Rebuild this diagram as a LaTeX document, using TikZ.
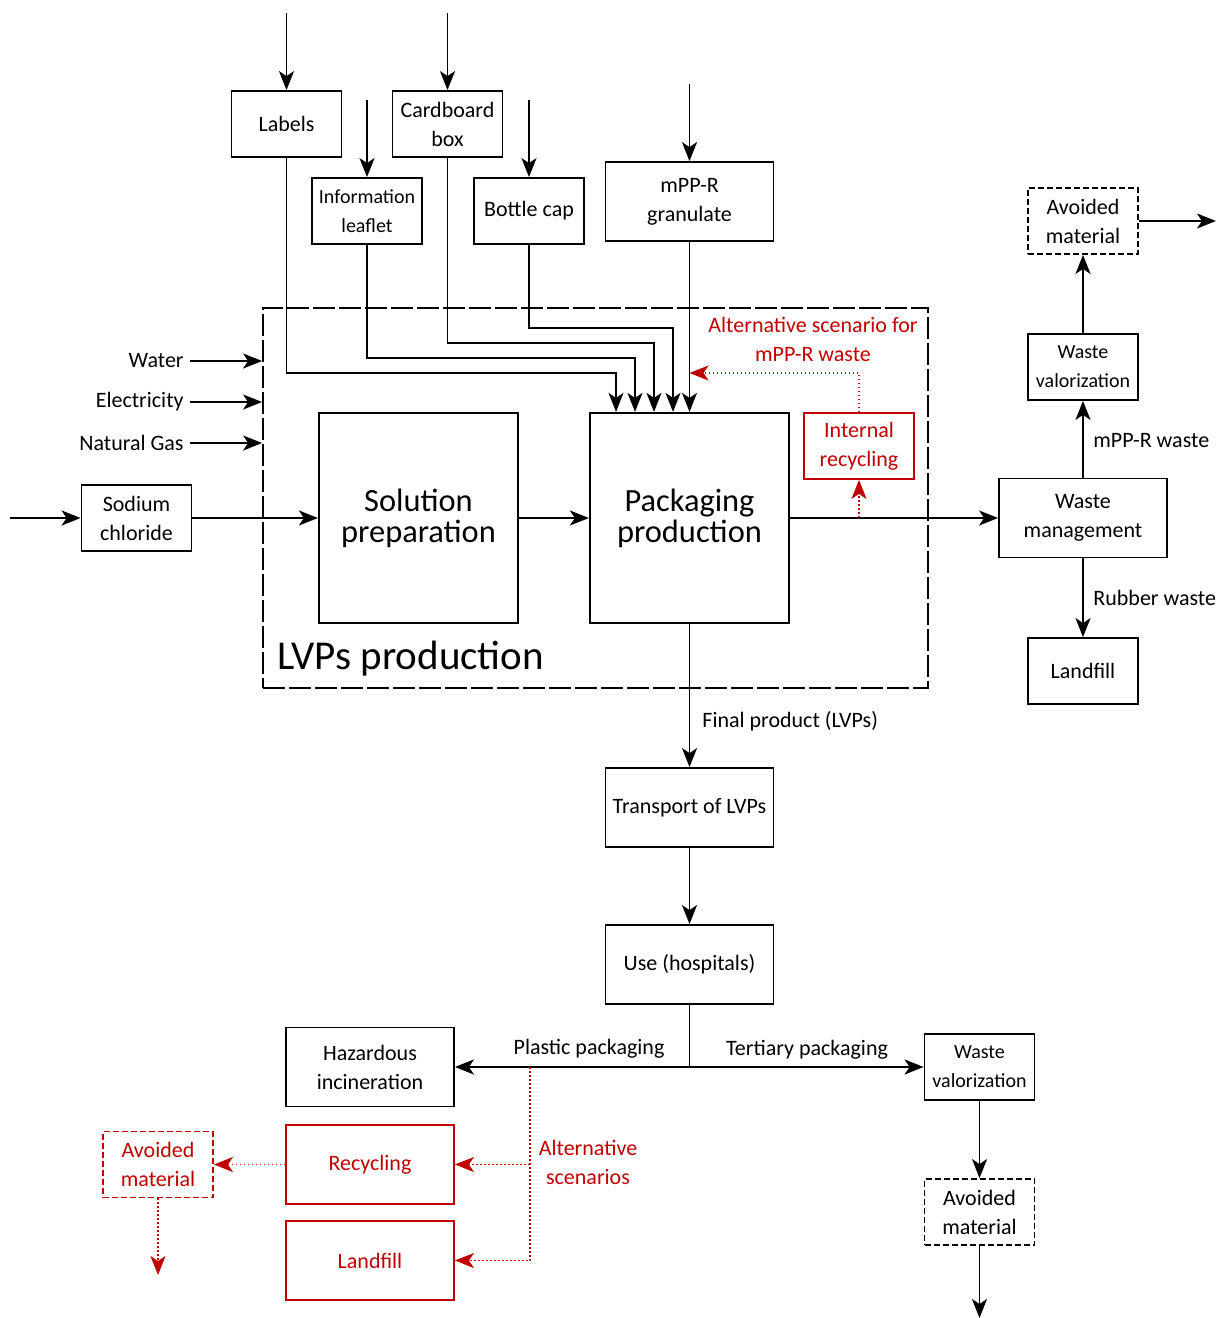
\documentclass[tikz,border=0pt]{standalone}
\usepackage{fontspec}
\setmainfont{Carlito}
\usetikzlibrary{positioning,arrows.meta}
\definecolor{altred}{HTML}{C00000}

\begin{document}
\begin{tikzpicture}[
  x=0.5pt, y=-0.5pt,
  >={Stealth[length=9.5pt,width=7.5pt,inset=2.5pt]},
  box/.style={draw, line width=0.9pt, align=center, inner sep=1pt,
              font=\fontsize{11}{14.5}\selectfont},
  smallbox/.style={box, minimum width=55pt, minimum height=33pt},
  widebox/.style={box, minimum width=84pt, minimum height=39.5pt},
  bigbox/.style={box, line width=1.1pt, minimum width=99.5pt, minimum height=105pt,
                 font=\fontsize{16.2}{15.5}\selectfont},
  avoided/.style={smallbox, dash pattern=on 3pt off 1.5pt},
  alt/.style={draw=altred, text=altred},
  tiny/.style={font=\fontsize{10}{14.5}\selectfont},
  lbl/.style={font=\fontsize{11}{14.5}\selectfont, align=center, inner sep=0pt},
  arr/.style={->, line width=0.9pt},
  redarr/.style={->, altred, line width=0.8pt, dash pattern=on 0.8pt off 1.2pt},
  frame/.style={draw, line width=0.9pt, dash pattern=on 11pt off 2pt},
]
\useasboundingbox (0,0) rectangle (1221,1318);

% packaging inputs
\node[smallbox] (labels) at (286.5,124) {Labels};
\node[smallbox] (cbox) at (447.5,124) {Cardboard\\box};
\node[smallbox, tiny] (leaflet) at (367,211) {Information\\leaflet};
\node[smallbox] (cap) at (529,211) {Bottle cap};
\node[widebox] (mppr) at (689.5,201.5) {mPP-R\\granulate};

\coordinate (inLabels) at (286.5,13);
\coordinate (inCbox) at (447.5,13);
\coordinate (inLeaflet) at (367,100);
\coordinate (inCap) at (529,100);
\coordinate (inMppr) at (689.5,84);
\draw[arr] (inLabels) -- (labels);
\draw[arr] (inCbox) -- (cbox);
\draw[arr] (inLeaflet) -- (leaflet);
\draw[arr] (inCap) -- (cap);
\draw[arr] (inMppr) -- (mppr);

% LVPs production
\node[frame, minimum width=332.5pt, minimum height=190pt] (lvps) at (595.5,498) {};
\node[bigbox] (sol) at (418.5,518) {Solution\\preparation};
\node[bigbox] (pack) at (689.5,518) {Packaging\\production};
\node[lbl, anchor=west, font=\fontsize{20.5}{20}\selectfont] (lvpsname) at (277,659) {LVPs production};

\coordinate (jLabels) at (616,373);
\coordinate (jLeaflet) at (635,358);
\coordinate (jCbox) at (654,343);
\coordinate (jCap) at (673,328);
\draw[arr] (labels.south) |- (jLabels) -- (jLabels |- pack.north);
\draw[arr] (leaflet.south) |- (jLeaflet) -- (jLeaflet |- pack.north);
\draw[arr] (cbox.south) |- (jCbox) -- (jCbox |- pack.north);
\draw[arr] (cap.south) |- (jCap) -- (jCap |- pack.north);
\draw[arr] (mppr) -- (mppr |- pack.north);

% internal recycling scenario
\node[smallbox, alt] (intrec) at (859,446) {Internal\\recycling};
\node[lbl, text=altred] (altmppr) at (813,339) {Alternative scenario for\\mPP-R waste};
\coordinate (jRecyc) at (689.5,373);
\draw[redarr] (intrec |- pack.east) -- (intrec.south);
\draw[redarr] (intrec.north) |- (jRecyc);

% utilities and sodium chloride
\node[lbl, anchor=east, inner xsep=3pt] (water) at (190,361) {Water};
\node[lbl, anchor=east, inner xsep=3pt] (elec) at (190,402) {Electricity};
\node[lbl, anchor=east, inner xsep=3pt] (gas) at (190,443) {Natural Gas};
\draw[arr] (water) -- (water -| lvps.west);
\draw[arr] (elec) -- (elec -| lvps.west);
\draw[arr] (gas) -- (gas -| lvps.west);

\node[smallbox] (nacl) at (136.5,518) {Sodium\\chloride};
\coordinate (inNacl) at (10,518);
\draw[arr] (inNacl) -- (nacl);
\draw[arr] (nacl) -- (sol);
\draw[arr] (sol) -- (pack);

% waste management
\node[widebox] (wm) at (1083,518) {Waste\\management};
\node[smallbox, tiny] (wval) at (1083,367) {Waste\\valorization};
\node[avoided] (avoid) at (1083,221) {Avoided\\material};
\node[smallbox] (landfill) at (1083,671) {Landfill};
\coordinate (outAvoid) at (1216,221);
\node[lbl, anchor=west] (mpprwaste) at (1093,441) {mPP-R waste};
\node[lbl, anchor=west] (rubber) at (1093,598) {Rubber waste};

\draw[arr] (pack) -- (wm);
\draw[arr] (wm) -- (wval);
\draw[arr] (wval) -- (avoid);
\draw[arr] (avoid) -- (outAvoid);
\draw[arr] (wm) -- (landfill);

% distribution and use
\node[widebox] (transport) at (689.5,807.5) {Transport of LVPs};
\node[widebox] (use) at (689.5,964.5) {Use (hospitals)};
\node[lbl, anchor=west] (finalp) at (702,721) {Final product (LVPs)};
\draw[arr] (pack) -- (transport);
\draw[arr] (transport) -- (use);

% end of life
\node[widebox] (hazard) at (370,1067) {Hazardous\\incineration};
\node[smallbox, tiny] (wvalb) at (979.5,1067) {Waste\\valorization};
\node[avoided] (avoidb) at (979.5,1212) {Avoided\\material};
\coordinate (outAvoidb) at (979.5,1318);
\coordinate (split) at (689.5,1067);
\node[lbl] (plastic) at (589,1049) {Plastic packaging};
\node[lbl] (tertiary) at (807,1050) {Tertiary packaging};

\draw[line width=0.9pt] (use) -- (split);
\draw[arr] (split) -- (hazard);
\draw[arr] (split) -- (wvalb);
\draw[arr] (wvalb) -- (avoidb);
\draw[arr] (avoidb) -- (outAvoidb);

% alternative end of life scenarios
\node[widebox, alt] (recyc) at (370,1164.5) {Recycling};
\node[widebox, alt] (landr) at (370,1260.5) {Landfill};
\node[avoided, alt] (avoidr) at (158,1164.5) {Avoided\\material};
\coordinate (outAvoidr) at (158,1275);
\coordinate (altTop) at (530,1067);
\node[lbl, text=altred] (altscen) at (588,1162) {Alternative\\scenarios};

\draw[redarr] (altTop) |- (landr);
\draw[redarr] (altTop |- recyc) -- (recyc);
\draw[redarr] (recyc) -- (avoidr);
\draw[redarr] (avoidr) -- (outAvoidr);

\end{tikzpicture}
\end{document}
